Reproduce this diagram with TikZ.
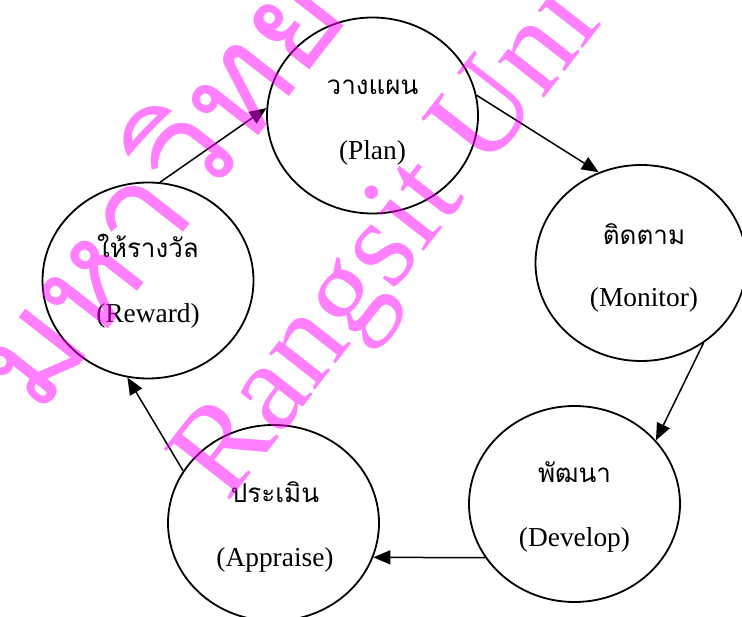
\documentclass[tikz,border=0pt]{standalone}
\usepackage{fontspec}
\setmainfont{Liberation Serif}
\newfontfamily\thaifont[Script=Thai]{Loma}
\usetikzlibrary{shapes.geometric,arrows.meta}

\definecolor{wmpink}{RGB}{255,0,255}

\tikzset{
  stage/.style={ellipse, draw=black, line width=1.8pt, inner sep=0pt,
                minimum width=211pt, minimum height=196pt},
  thlabel/.style={font=\thaifont\fontsize{26}{30}\selectfont, inner sep=0pt},
  enlabel/.style={font=\fontsize{27.4}{32}\selectfont, inner sep=0pt},
  flow/.style={line width=1.5pt, -{Triangle[length=17pt,width=14pt]}},
  watermark/.style={rotate=52, anchor=base west, inner sep=0pt,
                    text=wmpink, text opacity=0.5}
}

\begin{document}
\begin{tikzpicture}[x=1pt, y=-1pt]
  \useasboundingbox (0,0) rectangle (742,617);
  \clip (0,0) rectangle (742,617);

  % the five stages of the cycle
  \node[stage] (plan)     at (372.5,115.5) {};
  \node[stage] (monitor)  at (641,263)     {};
  \node[stage] (develop)  at (574.5,504)   {};
  \node[stage] (appraise) at (273.5,523)   {};
  \node[stage] (reward)   at (148,280.5)   {};

  \node[thlabel] (plan-th)     at (372.5,87)  {วางแผน};
  \node[enlabel] (plan-en)     at (372.5,153) {(Plan)};
  \node[thlabel] (monitor-th)  at (644,234)   {ติดตาม};
  \node[enlabel] (monitor-en)  at (644,300)   {(Monitor)};
  \node[thlabel] (develop-th)  at (574.5,472) {พัฒนา};
  \node[enlabel] (develop-en)  at (574.5,540) {(Develop)};
  \node[thlabel] (appraise-th) at (275,492)   {ประเมิน};
  \node[enlabel] (appraise-en) at (275,560)   {(Appraise)};
  \node[thlabel] (reward-th)   at (148,246)   {ให้รางวัล};
  \node[enlabel] (reward-en)   at (148,316)   {(Reward)};

  % arrows between the stages
  \draw[flow] (reward.83)     -- (plan.176.5);
  \draw[flow] (plan.11.6)     -- (monitor.115.5);
  \draw[flow] (monitor.-52.5) -- (develop.38.6);
  \draw[flow] (develop.211.4) -- (appraise.-19.2);
  \draw[flow] (appraise.150)  -- (reward.258);

  % university watermark
  \node[watermark, font=\fontsize{127}{140}\selectfont] (wm-en) at (227,504)
       {Rangsit University};
  \node[watermark, font=\thaifont\fontsize{138}{150}\selectfont] (wm-th) at (38,418)
       {มหาวิทยาลัย};
\end{tikzpicture}
\end{document}
